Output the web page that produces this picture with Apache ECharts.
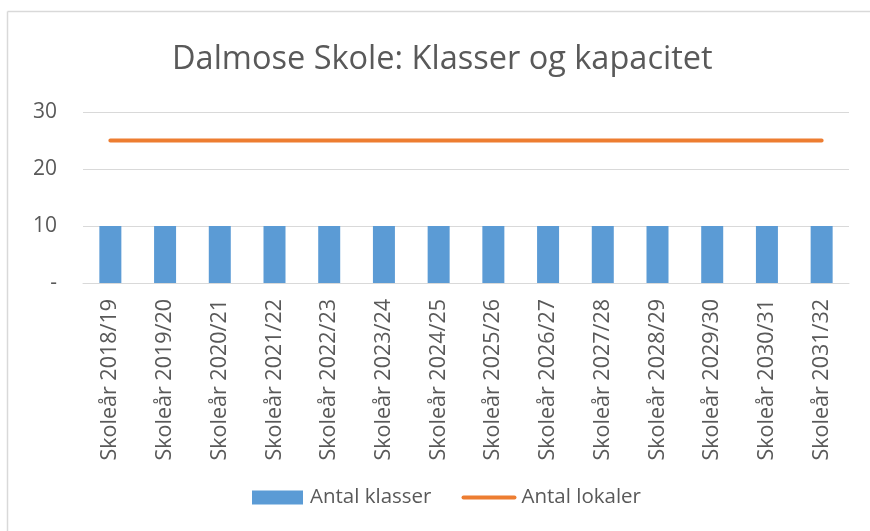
<!DOCTYPE html>
<html>
<head>
<meta charset="utf-8">
<script src="https://cdn.jsdelivr.net/npm/echarts@6/dist/echarts.min.js"></script>
<style>
html,body{margin:0;padding:0;background:#fff;}
#c{width:870px;height:531px;}
</style>
</head>
<body>
<div id="c"></div>
<script>
const categories = ["Skoleår 2018/19","Skoleår 2019/20","Skoleår 2020/21","Skoleår 2021/22","Skoleår 2022/23","Skoleår 2023/24","Skoleår 2024/25","Skoleår 2025/26","Skoleår 2026/27","Skoleår 2027/28","Skoleår 2028/29","Skoleår 2029/30","Skoleår 2030/31","Skoleår 2031/32"];
const antalKlasser = [10,10,10,10,10,10,10,10,10,10,10,10,10,10];
const antalLokaler = [25,25,25,25,25,25,25,25,25,25,25,25,25,25];
const yTicks = [0,10,20,30];

const FONT = '"Open Sans", "Noto Sans", sans-serif';
const TXT = '#595959';
const chart = echarts.init(document.getElementById('c'), null, {renderer:'canvas'});
chart.setOption({
  backgroundColor:'#fff',
  animation:false,
  textStyle:{fontFamily:FONT},
  title:{
    text:'Dalmose Skole: Klasser og kapacitet',
    left:167, top:38,
    textStyle:{fontFamily:FONT, fontSize:32.5, fontWeight:'normal', color:TXT}
  },
  graphic:[
    {type:'line', shape:{x1:7.5,y1:11.5,x2:870,y2:11.5}, style:{stroke:'#D9D9D9', lineWidth:1.5}},
    {type:'line', shape:{x1:7.5,y1:11.5,x2:7.5,y2:531}, style:{stroke:'#D9D9D9', lineWidth:1.5}}
  ],
  legend:{
    bottom:18, left:247,
    itemWidth:51, itemHeight:14, itemGap:30,
    textStyle:{fontFamily:FONT, fontSize:20.5, color:TXT, padding:[0,0,0,2]},
    data:[
      {name:'Antal klasser', icon:'rect'},
      {name:'Antal lokaler', lineStyle:{width:4, cap:'round', color:'#ED7D31'}, itemStyle:{opacity:0}}
    ]
  },
  grid:{left:83, right:21, top:112, bottom:248, containLabel:false},
  xAxis:{
    type:'category', data:categories, boundaryGap:true,
    axisLine:{show:true, lineStyle:{color:'#D9D9D9', width:1}},
    axisTick:{show:false},
    axisLabel:{rotate:90, interval:0, margin:16, fontFamily:FONT, fontSize:21.5, color:TXT}
  },
  yAxis:{
    type:'value', min:yTicks[0], max:yTicks[yTicks.length-1], interval:10,
    axisLine:{show:false}, axisTick:{show:false},
    splitLine:{lineStyle:{color:'#D9D9D9', width:1}},
    axisLabel:{margin:26, fontFamily:FONT, fontSize:21, color:TXT,
      formatter:v => v === 0 ? '-' : String(v)}
  },
  series:[
    {name:'Antal klasser', type:'bar', data:antalKlasser, barWidth:22,
      itemStyle:{color:'#5B9BD5'}},
    {name:'Antal lokaler', type:'line', data:antalLokaler, symbol:'none', showSymbol:false,
      lineStyle:{color:'#ED7D31', width:4, cap:'round'}, itemStyle:{color:'#ED7D31'}}
  ]
});
</script>
</body>
</html>
